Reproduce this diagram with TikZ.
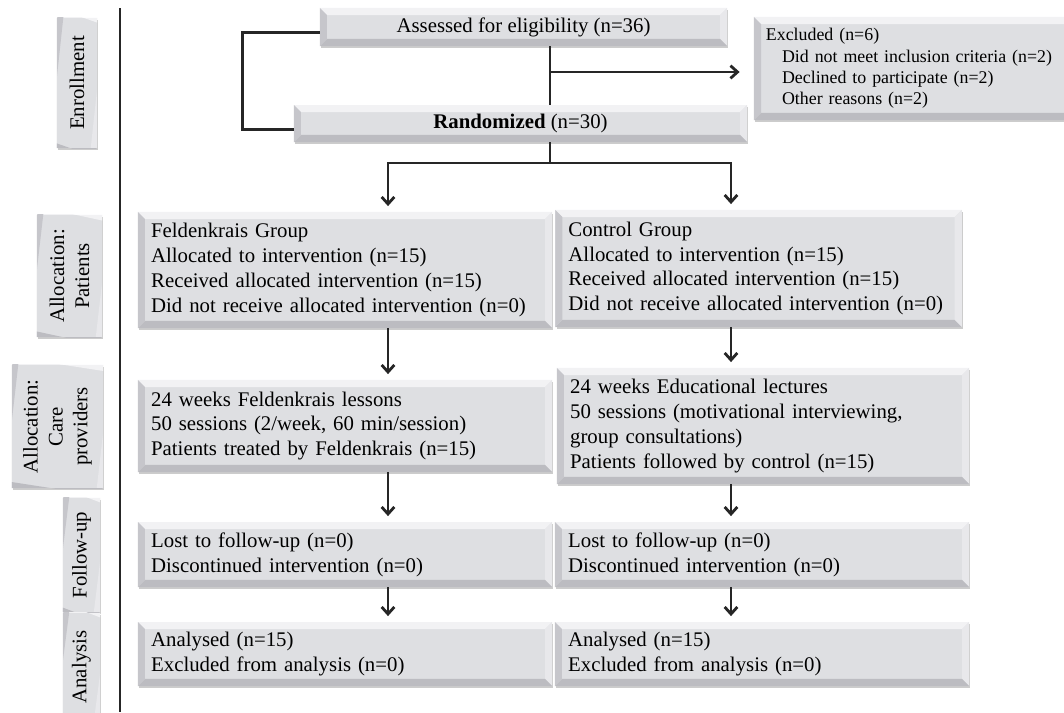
\documentclass[tikz,border=0pt]{standalone}
\usepackage{fontspec}
\setmainfont{Liberation Serif}
\usetikzlibrary{arrows.meta}
\usetikzlibrary{shadows}
\definecolor{face}{RGB}{222,223,226}
\definecolor{bevtop}{RGB}{242,242,244}
\definecolor{bevleft}{RGB}{198,198,203}
\definecolor{bevright}{RGB}{232,232,235}
\definecolor{bevbottom}{RGB}{188,188,193}
\tikzset{
    every node/.style={font=\fontsize{14.8}{17.7}\selectfont},
    bevel/.style={
        fill=face,
        drop shadow={shadow xshift=1pt,shadow yshift=-1.3pt,fill=black!50,opacity=0.4},
        path picture={
            \path (path picture bounding box.north west) coordinate (bnw)
                  (path picture bounding box.north east) coordinate (bne)
                  (path picture bounding box.south east) coordinate (bse)
                  (path picture bounding box.south west) coordinate (bsw);
            \fill[bevtop] (bnw) -- (bne) -- ([shift={(-5pt,-5pt)}]bne) -- ([shift={(5pt,-5pt)}]bnw) -- cycle;
            \fill[bevright] (bne) -- (bse) -- ([shift={(-5pt,5pt)}]bse) -- ([shift={(-5pt,-5pt)}]bne) -- cycle;
            \fill[bevbottom] (bse) -- (bsw) -- ([shift={(5pt,5pt)}]bsw) -- ([shift={(-5pt,5pt)}]bse) -- cycle;
            \fill[bevleft] (bsw) -- (bnw) -- ([shift={(5pt,-5pt)}]bnw) -- ([shift={(5pt,5pt)}]bsw) -- cycle;}},
    panel/.style={
        bevel,
        align=left,
        inner xsep=0.33cm,
        inner ysep=0pt},
    sidelabel/.style={
        bevel,
        rotate=90,
        align=center,
        inner sep=0pt},
    flow/.style={
        line width=2pt,
        draw=black!85},
    arr/.style={
        flow,
        -{Straight Barb[length=5pt,width=9pt]},
        shorten >=4pt}}

\begin{document}
\begin{tikzpicture}[x=0.025cm,y=-0.025cm]
    \useasboundingbox (0,0) rectangle (1064,712);

    \node[sidelabel,minimum width=3.25cm,minimum height=1cm] (enroll) at (77,83) {Enrollment};
    \node[sidelabel,minimum width=3.05cm,minimum height=1.625cm] (patients) at (69.5,276) {Allocation:\\Patients};
    \node[sidelabel,minimum width=3.075cm,minimum height=2.275cm] (care) at (57.5,426.5) {Allocation:\\Care\\providers};
    \node[sidelabel,minimum width=2.85cm,minimum height=0.925cm] (follow) at (81.5,555) {Follow-up};
    \node[sidelabel,minimum width=2.7cm,minimum height=0.925cm] (analysis) at (81.5,667) {Analysis};

    \coordinate (sepTop) at (120,8);
    \coordinate (sepBot) at (120,712);
    \draw[flow] (sepTop) -- (sepBot);

    \node[bevel,minimum width=10.175cm,minimum height=0.95cm] (assess) at (523.5,27) {Assessed for eligibility (n=36)};
    \node[bevel,minimum width=11.325cm,minimum height=0.925cm] (rand) at (520.5,123.5) {\textbf{Randomized} (n=30)};
    \node[panel,text width=7.5cm,minimum height=2.575cm,inner xsep=0.3cm,font=\fontsize{12.7}{15.2}\selectfont] (excl) at (916,68.5)
        {Excluded (n=6)\\\hspace*{0.9em}Did not meet inclusion criteria (n=2)\\\hspace*{0.9em}Declined to participate (n=2)\\\hspace*{0.9em}Other reasons (n=2)};

    \node[panel,text width=9.69cm,minimum height=2.9cm] (feld) at (345,270)
        {Feldenkrais Group\\Allocated to intervention (n=15)\\Received allocated intervention (n=15)\\Did not receive allocated intervention (n=0)};
    \node[panel,text width=9.5cm,minimum height=2.925cm] (ctrl) at (758.5,268.5)
        {Control Group\\Allocated to intervention (n=15)\\Received allocated intervention (n=15)\\Did not receive allocated intervention (n=0)};
    \node[panel,text width=9.69cm,minimum height=2.3cm] (lessons) at (345,426)
        {24 weeks Feldenkrais lessons\\50 sessions (2/week, 60 min/session)\\Patients treated by Feldenkrais (n=15)};
    \node[panel,text width=9.64cm,minimum height=2.9cm] (lectures) at (763,426)
        {24 weeks Educational lectures\\50 sessions (motivational interviewing,\\group consultations)\\Patients followed by control (n=15)};
    \node[panel,text width=9.69cm,minimum height=1.625cm] (lostL) at (345,554.5)
        {Lost to follow-up (n=0)\\Discontinued intervention (n=0)};
    \node[panel,text width=9.69cm,minimum height=1.625cm] (lostR) at (762,554.5)
        {Lost to follow-up (n=0)\\Discontinued intervention (n=0)};
    \node[panel,text width=9.69cm,minimum height=1.6cm] (anaL) at (345,654)
        {Analysed (n=15)\\Excluded from analysis (n=0)};
    \node[panel,text width=9.69cm,minimum height=1.6cm] (anaR) at (762,654)
        {Analysed (n=15)\\Excluded from analysis (n=0)};

    \coordinate (split) at (550,72);
    \coordinate (fork) at (550,163);
    \coordinate (colL) at (388,0);
    \coordinate (colR) at (731,0);

    \draw[flow] ([yshift=-4pt]assess.west) -- ++(-77,0) |- ([yshift=-4pt]rand.west);
    \draw[flow] (split |- assess.south) -- (split |- rand.north);
    \draw[arr,shorten >=10pt] (split) -- (split -| excl.west);
    \draw[flow] (split |- rand.south) -- (fork);
    \draw[arr] (fork) -| (colL |- feld.north);
    \draw[arr] (fork) -| (colR |- ctrl.north);
    \draw[arr] (colL |- feld.south) -- (colL |- lessons.north);
    \draw[arr] (colR |- ctrl.south) -- (colR |- lectures.north);
    \draw[arr] (colL |- lessons.south) -- (colL |- lostL.north);
    \draw[arr] (colR |- lectures.south) -- (colR |- lostR.north);
    \draw[arr] (colL |- lostL.south) -- (colL |- anaL.north);
    \draw[arr] (colR |- lostR.south) -- (colR |- anaR.north);
\end{tikzpicture}
\end{document}
